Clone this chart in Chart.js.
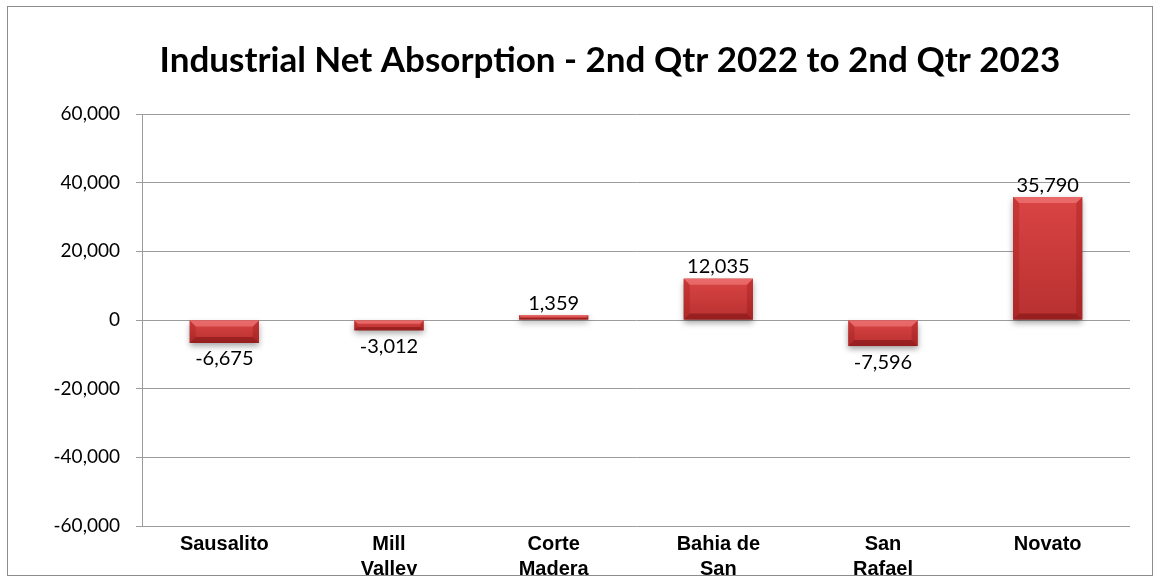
<!DOCTYPE html>
<html>
<head>
<meta charset="utf-8">
<script src="https://cdn.jsdelivr.net/npm/chart.js@4"></script>
<style>
  html, body { margin: 0; padding: 0; background: #fff; }
  #wrap { position: relative; width: 1155px; height: 578px; }
</style>
</head>
<body>
<div id="wrap"><canvas id="absorption"></canvas></div>
<script>
// chart data
const chartTitle = 'Industrial Net Absorption - 2nd Qtr 2022 to 2nd Qtr 2023';
const cities = [['Sausalito'], ['Mill', 'Valley'], ['Corte', 'Madera'], ['Bahia de', 'San'], ['San', 'Rafael'], ['Novato']];
const netAbsorption = [-6675, -3012, 1359, 12035, -7596, 35790];
const yTicks = [-60000, -40000, -20000, 0, 20000, 40000, 60000];

const fmt = v => v.toLocaleString('en-US');

// beveled red bars with a soft shadow, drawn over the library's bar rects
const bevelBars = {
    id: 'bevelBars',
    afterDatasetsDraw(chart) {
        const ctx = chart.ctx;
        chart.getDatasetMeta(0).data.forEach(bar => {
            const { x, y, base, width } = bar.getProps(['x', 'y', 'base', 'width'], true);
            const l = x - width / 2, r = x + width / 2;
            const t = Math.min(y, base), b = Math.max(y, base);
            const h = b - t;
            const bv = Math.min(6, h / 3);
            ctx.save();
            // shadow + body
            ctx.shadowColor = 'rgba(0,0,0,0.35)';
            ctx.shadowBlur = 6;
            ctx.shadowOffsetY = 3;
            const g = ctx.createLinearGradient(0, t, 0, b);
            g.addColorStop(0, '#da4444');
            g.addColorStop(1, '#b83030');
            ctx.fillStyle = g;
            ctx.fillRect(l, t, width, h);
            ctx.shadowColor = 'transparent';
            // bevel edges
            const poly = (pts, c) => {
                ctx.beginPath();
                ctx.moveTo(pts[0][0], pts[0][1]);
                pts.slice(1).forEach(p => ctx.lineTo(p[0], p[1]));
                ctx.closePath();
                ctx.fillStyle = c;
                ctx.fill();
            };
            poly([[l, t], [r, t], [r - bv, t + bv], [l + bv, t + bv]], 'rgba(255,150,150,0.45)');
            poly([[l, t], [l + bv, t + bv], [l + bv, b - bv], [l, b]], 'rgba(120,0,0,0.18)');
            poly([[r, t], [r, b], [r - bv, b - bv], [r - bv, t + bv]], 'rgba(120,0,0,0.22)');
            poly([[l, b], [l + bv, b - bv], [r - bv, b - bv], [r, b]], 'rgba(90,0,0,0.35)');
            ctx.restore();
        });
    }
};

// value labels above positive / below negative bars
const valueLabels = {
    id: 'valueLabels',
    afterDatasetsDraw(chart) {
        const ctx = chart.ctx;
        const ds = chart.data.datasets[0];
        ctx.save();
        ctx.font = '20px Lato';
        ctx.fillStyle = '#000';
        ctx.textAlign = 'center';
        chart.getDatasetMeta(0).data.forEach((bar, i) => {
            const v = ds.data[i];
            if (v >= 0) {
                ctx.textBaseline = 'bottom';
                ctx.fillText(fmt(v), bar.x, bar.y - 2);
            } else {
                ctx.textBaseline = 'top';
                ctx.fillText(fmt(v), bar.x, bar.y + 6);
            }
        });
        ctx.restore();
    }
};

// title (centred a bit left of the plot, as in the original) and outer frame
const frame = {
    id: 'frame',
    afterDraw(chart) {
        const ctx = chart.ctx;
        ctx.save();
        ctx.font = 'bold 35px Lato';
        ctx.fillStyle = '#000';
        ctx.textAlign = 'center';
        ctx.textBaseline = 'alphabetic';
        ctx.fillText(chartTitle, 610, 72);
        ctx.fillStyle = '#fff';
        ctx.fillRect(0, 576, chart.width, chart.height - 576);
        ctx.strokeStyle = '#8c8c8c';
        ctx.lineWidth = 1;
        ctx.strokeRect(7.5, 6.5, 1145, 569);
        ctx.restore();
    }
};

new Chart(document.getElementById('absorption'), {
    type: 'bar',
    data: {
        labels: cities,
        datasets: [{
            data: netAbsorption,
            backgroundColor: '#c43c3c',
            borderWidth: 0,
            barPercentage: 0.42,
            categoryPercentage: 1
        }]
    },
    options: {
        responsive: true,
        maintainAspectRatio: false,
        devicePixelRatio: 1,
        animation: false,
        layout: { padding: { left: 0, right: 25, top: 114, bottom: 0 } },
        plugins: {
            legend: { display: false },
            tooltip: { enabled: false },
            title: { display: false }
        },
        scales: {
            x: {
                grid: { display: false, drawTicks: false },
                border: { display: false },
                ticks: {
                    color: '#000',
                    padding: 6,
                    maxRotation: 0,
                    autoSkip: false,
                    font: { family: 'Liberation Sans', size: 20, weight: 'bold', lineHeight: 1.25 }
                },
                afterFit(scale) { scale.height = 52; }
            },
            y: {
                min: -60000,
                max: 60000,
                afterBuildTicks(scale) { scale.ticks = yTicks.map(v => ({ value: v })); },
                grid: { color: '#9c9c9c', tickLength: 6 },
                border: { color: '#9c9c9c' },
                ticks: {
                    color: '#000',
                    padding: 16,
                    font: { family: 'Lato', size: 19 },
                    callback: v => fmt(v)
                },
                afterFit(scale) { scale.width = 142; }
            }
        }
    },
    plugins: [bevelBars, valueLabels, frame]
});
</script>
</body>
</html>
